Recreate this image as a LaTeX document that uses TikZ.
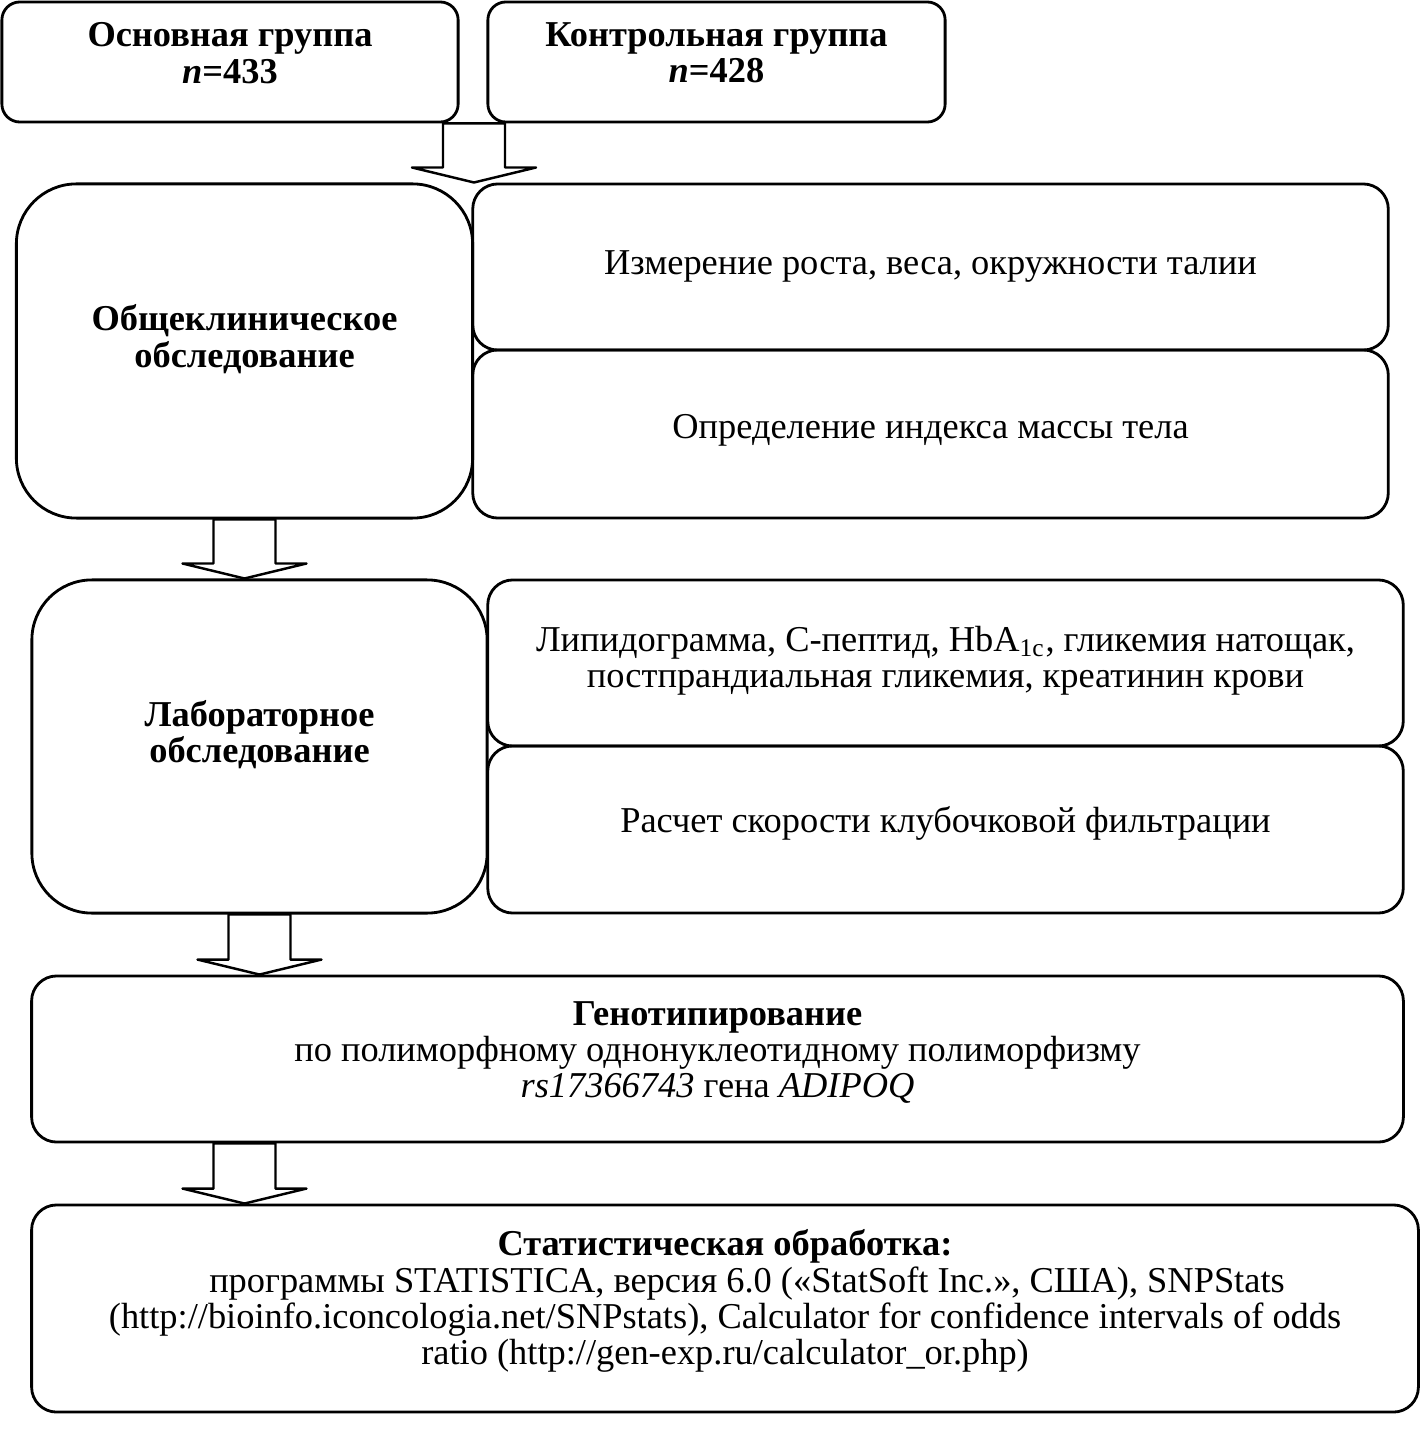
\documentclass[tikz,border=0pt]{standalone}
\usepackage{fontspec}
\setmainfont{Liberation Serif}
\usetikzlibrary{calc}
\tikzset{
  box/.style={draw, line width=0.8pt, align=center, inner sep=0pt, font=\fontsize{10.35}{10.3}\selectfont},
  grpbox/.style={box, rounded corners=0.18cm, minimum width=4.56cm, minimum height=1.2cm},
  stagebox/.style={box, rounded corners=0.6cm, minimum width=4.56cm, minimum height=3.34cm},
  itembox/.style={box, rounded corners=0.25cm, minimum width=9.15cm, minimum height=1.67cm},
  widebox/.style={box, rounded corners=0.25cm},
  barrow/.style={line width=0.7pt, line join=round},
}
% block arrow: x centre, upper node, lower node
\newcommand{\bigarrow}[3]{%
  \draw[barrow] (#2.south -| {#1-31},0) -- ($(#3.north -| {#1-31},0)+(0,-15)$)
    -- ($(#3.north -| {#1-62},0)+(0,-15)$) -- (#3.north -| #1,0)
    -- ($(#3.north -| {#1+62},0)+(0,-15)$) -- ($(#3.north -| {#1+31},0)+(0,-15)$)
    -- (#2.south -| {#1+31},0) -- cycle;}

\begin{document}
\begin{tikzpicture}[x=0.01cm, y=-0.01cm]
  \useasboundingbox (0,0) rectangle (1420,1434);
  % groups
  \node[grpbox, text depth=5.2pt] (main) at (230,62) {\textbf{Основная группа}\\\textbf{\textit{n}=433}};
  \node[grpbox, minimum width=4.57cm, text depth=5.2pt] (control) at (716.5,62) {\textbf{Контрольная группа}\\\textbf{\textit{n}=428}};
  % general clinical examination
  \node[stagebox, text depth=8.5pt] (clinic) at (244.5,351) {\textbf{Общеклиническое}\\\textbf{обследование}};
  \node[itembox, minimum height=1.66cm] (anthro) at (930.5,267) {Измерение роста, веса, окружности талии};
  \node[itembox, minimum height=1.68cm, text depth=4.5pt] (bmi) at (930.5,434) {Определение индекса массы тела};
  % laboratory examination
  \node[stagebox, minimum width=4.55cm, minimum height=3.33cm, text depth=8.5pt] (lab) at (259.5,746.5) {\textbf{Лабораторное}\\\textbf{обследование}};
  \node[itembox, minimum height=1.66cm, text depth=3.5pt] (blood) at (945.5,663) {Липидограмма, С-пептид, HbA\textsubscript{1c}, гликемия натощак,\\постпрандиальная гликемия, креатинин крови};
  \node[itembox, text depth=5.5pt] (gfr) at (945.5,829.5) {Расчет скорости клубочковой фильтрации};
  % genotyping
  \node[widebox, minimum width=13.71cm, minimum height=1.66cm, text depth=5.5pt] (geno) at (717.5,1059) {\textbf{Генотипирование}\\по полиморфному однонуклеотидному полиморфизму\\\textit{rs17366743} гена \textit{ADIPOQ}};
  % statistics
  \node[widebox, minimum width=13.86cm, minimum height=2.07cm, text depth=6.5pt] (stat) at (725,1308.5) {\textbf{Статистическая обработка:}\\\hspace*{0.44cm}программы STATISTICA, версия 6.0 («StatSoft Inc.», США), SNPStats\\(http://bioinfo.iconcologia.net/SNPstats), Calculator for confidence intervals of odds\\ratio (http://gen-exp.ru/calculator\_or.php)};
  % arrows
  \bigarrow{474}{main}{clinic}
  \bigarrow{244.5}{clinic}{lab}
  \bigarrow{259.5}{lab}{geno}
  \bigarrow{244.5}{geno}{stat}
\end{tikzpicture}
\end{document}
